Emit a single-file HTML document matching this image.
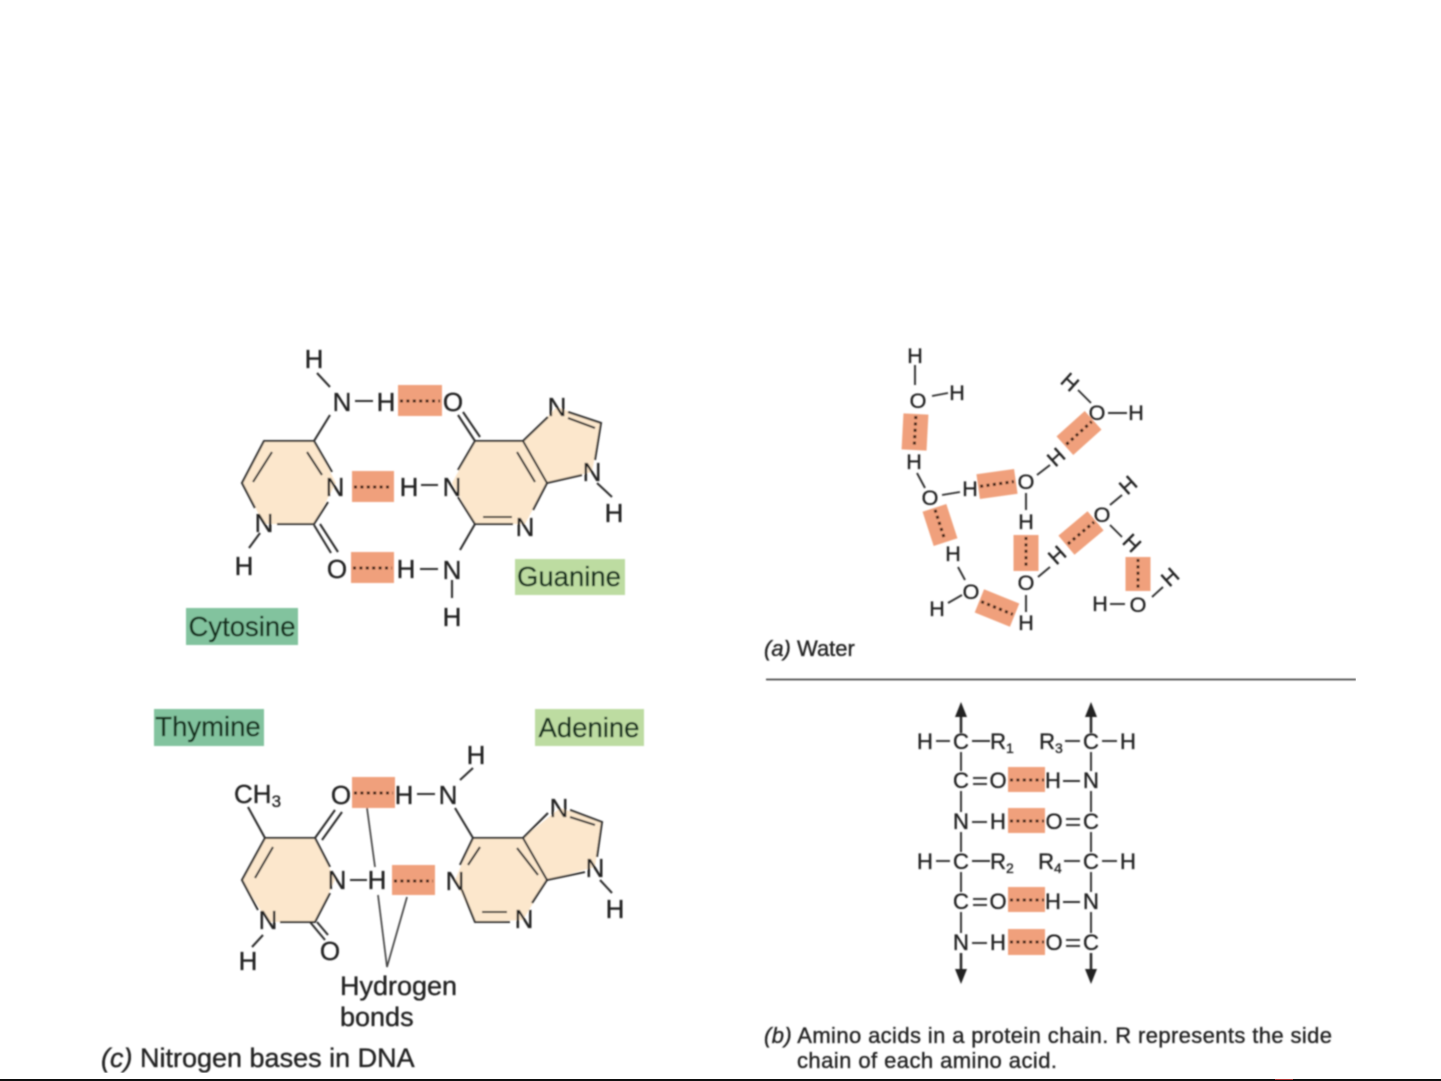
<!DOCTYPE html>
<html>
<head>
<meta charset="utf-8">
<title>Hydrogen bonds</title>
<style>
html,body{margin:0;padding:0;background:#fff;width:1441px;height:1081px;overflow:hidden}
svg{display:block;position:absolute;left:0;top:0}
text{font-family:"Liberation Sans",sans-serif;fill:#222;stroke:#222;stroke-width:.35px}
.a{font-size:26px;text-anchor:middle}
.w{font-size:21.5px;text-anchor:middle}
.p{font-size:22px;text-anchor:middle}
.s{font-size:14px;text-anchor:start}
.l{font-size:27.5px;text-anchor:middle;fill:#12301f;stroke:#12301f}
.c{font-size:22px}
.d{font-size:27px}
.b line,.b polyline{stroke:#2e2e2e;stroke-width:2.1;fill:none}
.t line,.t polyline{stroke:#2e2e2e;stroke-width:1.9;fill:none}
.o{fill:#f0a07b}
.dot{stroke:#3a1a10;stroke-width:3;stroke-dasharray:3 3.4;fill:none}
</style>
</head>
<body>
<svg width="1441" height="1081" viewBox="0 0 1441 1081" xmlns="http://www.w3.org/2000/svg">
<defs><filter id="bl" x="0" y="0" width="100%" height="100%"><feGaussianBlur stdDeviation="0.7"/></filter></defs>
<g filter="url(#bl)">

<!-- ring fills -->
<g fill="#fce7cc">
<polygon points="314,441 264,441 242,483 264,524 314,524 336,483"/>
<polygon points="475,441 523,441 547,483 525,524 475,524 452,483"/>
<polygon points="523,441 557,407 601,423 592,472 547,483"/>
<polygon points="265,838 315,838 335,880 315,922 268,922 242,880"/>
<polygon points="473,838 523,838 547,880 523,920 475,922 455,880"/>
<polygon points="523,838 560,808 602,822 595,867 547,880"/>
</g>

<!-- name labels -->
<rect x="186" y="608" width="112" height="37" fill="#82c39e"/>
<rect x="515" y="559" width="110" height="36" fill="#bddca1"/>
<rect x="154" y="709" width="110" height="37" fill="#82c39e"/>
<rect x="535" y="709" width="109" height="37" fill="#bddca1"/>
<text class="l" x="242" y="636">Cytosine</text>
<text class="l" x="569" y="586">Guanine</text>
<text class="l" x="208" y="736">Thymine</text>
<text class="l" x="589" y="737">Adenine</text>

<!-- hydrogen bond boxes: DNA -->
<rect class="o" x="398" y="385" width="44" height="31"/>
<rect class="o" x="352" y="471" width="42" height="31"/>
<rect class="o" x="351" y="552" width="43" height="31"/>
<rect class="o" x="352" y="777" width="43" height="31"/>
<rect class="o" x="392" y="865" width="43" height="30"/>
<line class="dot" x1="400" y1="401" x2="440" y2="401"/>
<line class="dot" x1="354" y1="487" x2="392" y2="487"/>
<line class="dot" x1="353" y1="568" x2="392" y2="568"/>
<line class="dot" x1="354" y1="793" x2="393" y2="793"/>
<line class="dot" x1="394" y1="881" x2="433" y2="881"/>

<!-- Cytosine + Guanine bonds -->
<g class="b">
<line x1="317" y1="373" x2="330" y2="387"/>
<line x1="330" y1="415" x2="314" y2="441"/>
<line x1="355" y1="401" x2="373" y2="401"/>
<polyline points="332,472 314,441 264,441 242,483 255,508"/>
<line x1="307" y1="452" x2="322" y2="475"/>
<line x1="272" y1="452" x2="253" y2="482"/>
<polyline points="328,502 314,524 277,524"/>
<line x1="260" y1="533" x2="249" y2="548"/>
<line x1="320" y1="524" x2="338" y2="552"/>
<line x1="314" y1="525" x2="331" y2="553"/>
<line x1="420" y1="569" x2="438" y2="569"/>
<line x1="421" y1="485" x2="438" y2="485"/>
<line x1="458" y1="415" x2="475" y2="441"/>
<line x1="463" y1="412" x2="480" y2="437"/>
<polyline points="458,470 475,441 523,441 547,483 533,510"/>
<polyline points="458,497 475,524 513,524"/>
<line x1="483" y1="517" x2="512" y2="517"/>
<line x1="517" y1="452" x2="535" y2="482"/>
<line x1="523" y1="441" x2="548" y2="417"/>
<polyline points="568,412 601,423 595,460"/>
<line x1="568" y1="418" x2="595" y2="428"/>
<line x1="547" y1="483" x2="582" y2="475"/>
<line x1="597" y1="483" x2="612" y2="497"/>
<line x1="475" y1="524" x2="460" y2="550"/>
<line x1="452" y1="580" x2="452" y2="598"/>
</g>
<g class="a">
<text class="a" x="314" y="368">H</text>
<text class="a" x="342" y="411">N</text>
<text class="a" x="386" y="411">H</text>
<text class="a" x="453" y="411">O</text>
<text class="a" x="335" y="496">N</text>
<text class="a" x="264" y="532">N</text>
<text class="a" x="244" y="575">H</text>
<text class="a" x="337" y="578">O</text>
<text class="a" x="406" y="578">H</text>
<text class="a" x="452" y="579">N</text>
<text class="a" x="452" y="626">H</text>
<text class="a" x="409" y="496">H</text>
<text class="a" x="452" y="496">N</text>
<text class="a" x="525" y="536">N</text>
<text class="a" x="557" y="416">N</text>
<text class="a" x="592" y="481">N</text>
<text class="a" x="614" y="522">H</text>
</g>

<!-- Thymine + Adenine bonds -->
<g class="b">
<line x1="248" y1="807" x2="265" y2="838"/>
<polyline points="330,867 315,838 265,838 242,880 258,910"/>
<line x1="315" y1="838" x2="335" y2="810"/>
<line x1="322" y1="840" x2="342" y2="812"/>
<line x1="273" y1="847" x2="255" y2="878"/>
<polyline points="330,893 315,922 280,922"/>
<line x1="263" y1="935" x2="252" y2="947"/>
<line x1="310" y1="922" x2="325" y2="940"/>
<line x1="317" y1="922" x2="328" y2="935"/>
<line x1="350" y1="880" x2="367" y2="880"/>
<line x1="417" y1="794" x2="435" y2="794"/>
<line x1="460" y1="780" x2="473" y2="768"/>
<line x1="455" y1="808" x2="473" y2="838"/>
<polyline points="460,865 473,838 523,838 547,880 532,903"/>
<line x1="468" y1="865" x2="480" y2="847"/>
<line x1="517" y1="848" x2="538" y2="875"/>
<polyline points="462,890 475,922 510,922"/>
<line x1="482" y1="912" x2="507" y2="912"/>
<line x1="523" y1="838" x2="548" y2="813"/>
<polyline points="570,810 602,822 597,857"/>
<line x1="570" y1="817" x2="595" y2="825"/>
<line x1="547" y1="880" x2="585" y2="872"/>
<line x1="600" y1="880" x2="612" y2="893"/>
</g>
<g stroke="#444" stroke-width="1.7" fill="none">
<line x1="367" y1="808" x2="375" y2="867"/>
<polyline points="378,895 387,967 407,897"/>
</g>
<text class="a" x="234" y="803" style="text-anchor:start">CH<tspan font-size="17" dy="4">3</tspan></text>
<text class="a" x="341" y="804">O</text>
<text class="a" x="404" y="804">H</text>
<text class="a" x="448" y="804">N</text>
<text class="a" x="476" y="764">H</text>
<text class="a" x="337" y="889">N</text>
<text class="a" x="377" y="889">H</text>
<text class="a" x="455" y="890">N</text>
<text class="a" x="268" y="929">N</text>
<text class="a" x="248" y="970">H</text>
<text class="a" x="330" y="960">O</text>
<text class="a" x="524" y="928">N</text>
<text class="a" x="559" y="817">N</text>
<text class="a" x="595" y="877">N</text>
<text class="a" x="615" y="918">H</text>
<text x="340" y="995" style="font-size:27px">Hydrogen</text>
<text x="340" y="1026" style="font-size:27px">bonds</text>
<text class="d" x="101" y="1067"><tspan font-style="italic">(c)</tspan> Nitrogen bases in DNA</text>

<!-- Water -->
<g>
<g transform="translate(915,432) rotate(3)"><rect class="o" x="-12.5" y="-18" width="25" height="36"/><line class="dot" x1="0" y1="-16" x2="0" y2="16"/></g>
<g transform="translate(997,484) rotate(-8)"><rect class="o" x="-19" y="-12.5" width="38" height="25"/><line class="dot" x1="-17" y1="0" x2="17" y2="0"/></g>
<g transform="translate(1079,433) rotate(-42)"><rect class="o" x="-19" y="-12.5" width="38" height="25"/><line class="dot" x1="-17" y1="0" x2="17" y2="0"/></g>
<g transform="translate(940,525) rotate(-18)"><rect class="o" x="-12.5" y="-18" width="25" height="36"/><line class="dot" x1="0" y1="-16" x2="0" y2="16"/></g>
<g transform="translate(1026,553)"><rect class="o" x="-12.5" y="-18" width="25" height="36"/><line class="dot" x1="0" y1="-16" x2="0" y2="16"/></g>
<g transform="translate(1081,533) rotate(-40)"><rect class="o" x="-19" y="-12.5" width="38" height="25"/><line class="dot" x1="-17" y1="0" x2="17" y2="0"/></g>
<g transform="translate(997,608) rotate(22)"><rect class="o" x="-19" y="-12.5" width="38" height="25"/><line class="dot" x1="-17" y1="0" x2="17" y2="0"/></g>
<g transform="translate(1138,574)"><rect class="o" x="-12.5" y="-17" width="25" height="34"/><line class="dot" x1="0" y1="-15" x2="0" y2="15"/></g>
</g>
<g class="t">
<line x1="915" y1="365" x2="915" y2="385"/>
<line x1="932" y1="396" x2="948" y2="393"/>
<line x1="1078" y1="390" x2="1091" y2="403"/>
<line x1="1108" y1="413" x2="1127" y2="413"/>
<line x1="917" y1="473" x2="925" y2="488"/>
<line x1="942" y1="495" x2="960" y2="492"/>
<line x1="1037" y1="475" x2="1050" y2="465"/>
<line x1="1026" y1="493" x2="1026" y2="510"/>
<line x1="1110" y1="505" x2="1122" y2="495"/>
<line x1="1110" y1="525" x2="1122" y2="537"/>
<line x1="1038" y1="577" x2="1050" y2="567"/>
<line x1="1026" y1="595" x2="1026" y2="612"/>
<line x1="958" y1="567" x2="965" y2="580"/>
<line x1="962" y1="595" x2="948" y2="603"/>
<line x1="1110" y1="604" x2="1125" y2="604"/>
<line x1="1152" y1="597" x2="1163" y2="587"/>
</g>
<text class="w" x="915" y="363">H</text>
<text class="w" x="918" y="408">O</text>
<text class="w" x="957" y="400">H</text>
<text class="w" transform="translate(1070,382) rotate(42)" y="7.5">H</text>
<text class="w" x="1097" y="420">O</text>
<text class="w" x="1136" y="420">H</text>
<text class="w" x="914" y="469">H</text>
<text class="w" x="930" y="505">O</text>
<text class="w" x="970" y="496">H</text>
<text class="w" x="1026" y="489">O</text>
<text class="w" transform="translate(1056,457) rotate(-42)" y="7.5">H</text>
<text class="w" x="1026" y="529">H</text>
<text class="w" x="1102" y="522">O</text>
<text class="w" transform="translate(1128,485) rotate(-42)" y="7.5">H</text>
<text class="w" transform="translate(1132,543) rotate(45)" y="7.5">H</text>
<text class="w" transform="translate(1057,555) rotate(-42)" y="7.5">H</text>
<text class="w" x="1026" y="590">O</text>
<text class="w" x="1026" y="630">H</text>
<text class="w" x="953" y="561">H</text>
<text class="w" x="971" y="599">O</text>
<text class="w" x="937" y="616">H</text>
<text class="w" x="1100" y="611">H</text>
<text class="w" x="1138" y="612">O</text>
<text class="w" transform="translate(1170,577) rotate(-42)" y="7.5">H</text>
<text class="c" x="764" y="656"><tspan font-style="italic">(a)</tspan> Water</text>

<!-- divider -->
<line x1="766" y1="679.5" x2="1356" y2="679.5" stroke="#333" stroke-width="1.5"/>

<!-- Protein -->
<rect class="o" x="1008" y="767" width="37" height="25"/>
<rect class="o" x="1008" y="808" width="37" height="25"/>
<rect class="o" x="1008" y="887" width="37" height="25"/>
<rect class="o" x="1008" y="929" width="37" height="26"/>
<line class="dot" x1="1010" y1="780" x2="1044" y2="780"/>
<line class="dot" x1="1010" y1="821" x2="1044" y2="821"/>
<line class="dot" x1="1010" y1="900" x2="1044" y2="900"/>
<line class="dot" x1="1010" y1="942" x2="1044" y2="942"/>
<g class="t">
<line x1="961" y1="712" x2="961" y2="733" style="stroke-width:2.6"/><line x1="1091" y1="712" x2="1091" y2="733" style="stroke-width:2.6"/>
<line x1="961" y1="752" x2="961" y2="771"/><line x1="1091" y1="752" x2="1091" y2="771"/>
<line x1="961" y1="791" x2="961" y2="812"/><line x1="1091" y1="791" x2="1091" y2="812"/>
<line x1="961" y1="832" x2="961" y2="852"/><line x1="1091" y1="832" x2="1091" y2="852"/>
<line x1="961" y1="872" x2="961" y2="892"/><line x1="1091" y1="872" x2="1091" y2="892"/>
<line x1="961" y1="912" x2="961" y2="933"/><line x1="1091" y1="912" x2="1091" y2="933"/>
<line x1="961" y1="953" x2="961" y2="972" style="stroke-width:2.6"/><line x1="1091" y1="953" x2="1091" y2="972" style="stroke-width:2.6"/>
<line x1="936" y1="741" x2="950" y2="741"/><line x1="972" y1="741" x2="990" y2="741"/>
<line x1="1065" y1="741" x2="1080" y2="741"/><line x1="1102" y1="741" x2="1117" y2="741"/>
<line x1="936" y1="861" x2="950" y2="861"/><line x1="972" y1="861" x2="990" y2="861"/>
<line x1="1064" y1="861" x2="1080" y2="861"/><line x1="1102" y1="861" x2="1117" y2="861"/>
<line x1="973" y1="778" x2="987" y2="778"/><line x1="973" y1="784" x2="987" y2="784"/>
<line x1="973" y1="899" x2="987" y2="899"/><line x1="973" y1="905" x2="987" y2="905"/>
<line x1="1066" y1="819" x2="1080" y2="819"/><line x1="1066" y1="825" x2="1080" y2="825"/>
<line x1="1066" y1="940" x2="1080" y2="940"/><line x1="1066" y1="946" x2="1080" y2="946"/>
<line x1="1063" y1="781" x2="1080" y2="781"/><line x1="1063" y1="902" x2="1080" y2="902"/>
<line x1="972" y1="822" x2="987" y2="822"/><line x1="972" y1="943" x2="987" y2="943"/>
</g>
<g fill="#222">
<polygon points="961,702 955,717 967,717"/>
<polygon points="1091,702 1085,717 1097,717"/>
<polygon points="961,984 955,969 967,969"/>
<polygon points="1091,984 1085,969 1097,969"/>
</g>
<text class="p" x="925" y="749">H</text><text class="p" x="961" y="749">C</text>
<text class="p" x="1002" y="749">R<tspan class="s" font-size="13" dy="4">1</tspan></text>
<text class="p" x="1051" y="749">R<tspan class="s" font-size="13" dy="4">3</tspan></text>
<text class="p" x="1091" y="749">C</text><text class="p" x="1128" y="749">H</text>
<text class="p" x="961" y="788">C</text><text class="p" x="998" y="788">O</text><text class="p" x="1053" y="788">H</text><text class="p" x="1091" y="788">N</text>
<text class="p" x="961" y="829">N</text><text class="p" x="998" y="829">H</text><text class="p" x="1054" y="829">O</text><text class="p" x="1091" y="829">C</text>
<text class="p" x="925" y="869">H</text><text class="p" x="961" y="869">C</text>
<text class="p" x="1002" y="869">R<tspan class="s" font-size="13" dy="4">2</tspan></text>
<text class="p" x="1050" y="869">R<tspan class="s" font-size="13" dy="4">4</tspan></text>
<text class="p" x="1091" y="869">C</text><text class="p" x="1128" y="869">H</text>
<text class="p" x="961" y="909">C</text><text class="p" x="998" y="909">O</text><text class="p" x="1053" y="909">H</text><text class="p" x="1091" y="909">N</text>
<text class="p" x="961" y="950">N</text><text class="p" x="998" y="950">H</text><text class="p" x="1054" y="950">O</text><text class="p" x="1091" y="950">C</text>
<text class="c" x="764" y="1043" textLength="568"><tspan font-style="italic">(b)</tspan> Amino acids in a protein chain. R represents the side</text>
<text class="c" x="797" y="1068" textLength="260">chain of each amino acid.</text>
</g>

<!-- bottom edge -->
<rect x="0" y="1079" width="1441" height="2" fill="#111"/>
<rect x="1275" y="1079" width="18" height="1" fill="#a33"/>
</svg>
</body>
</html>
